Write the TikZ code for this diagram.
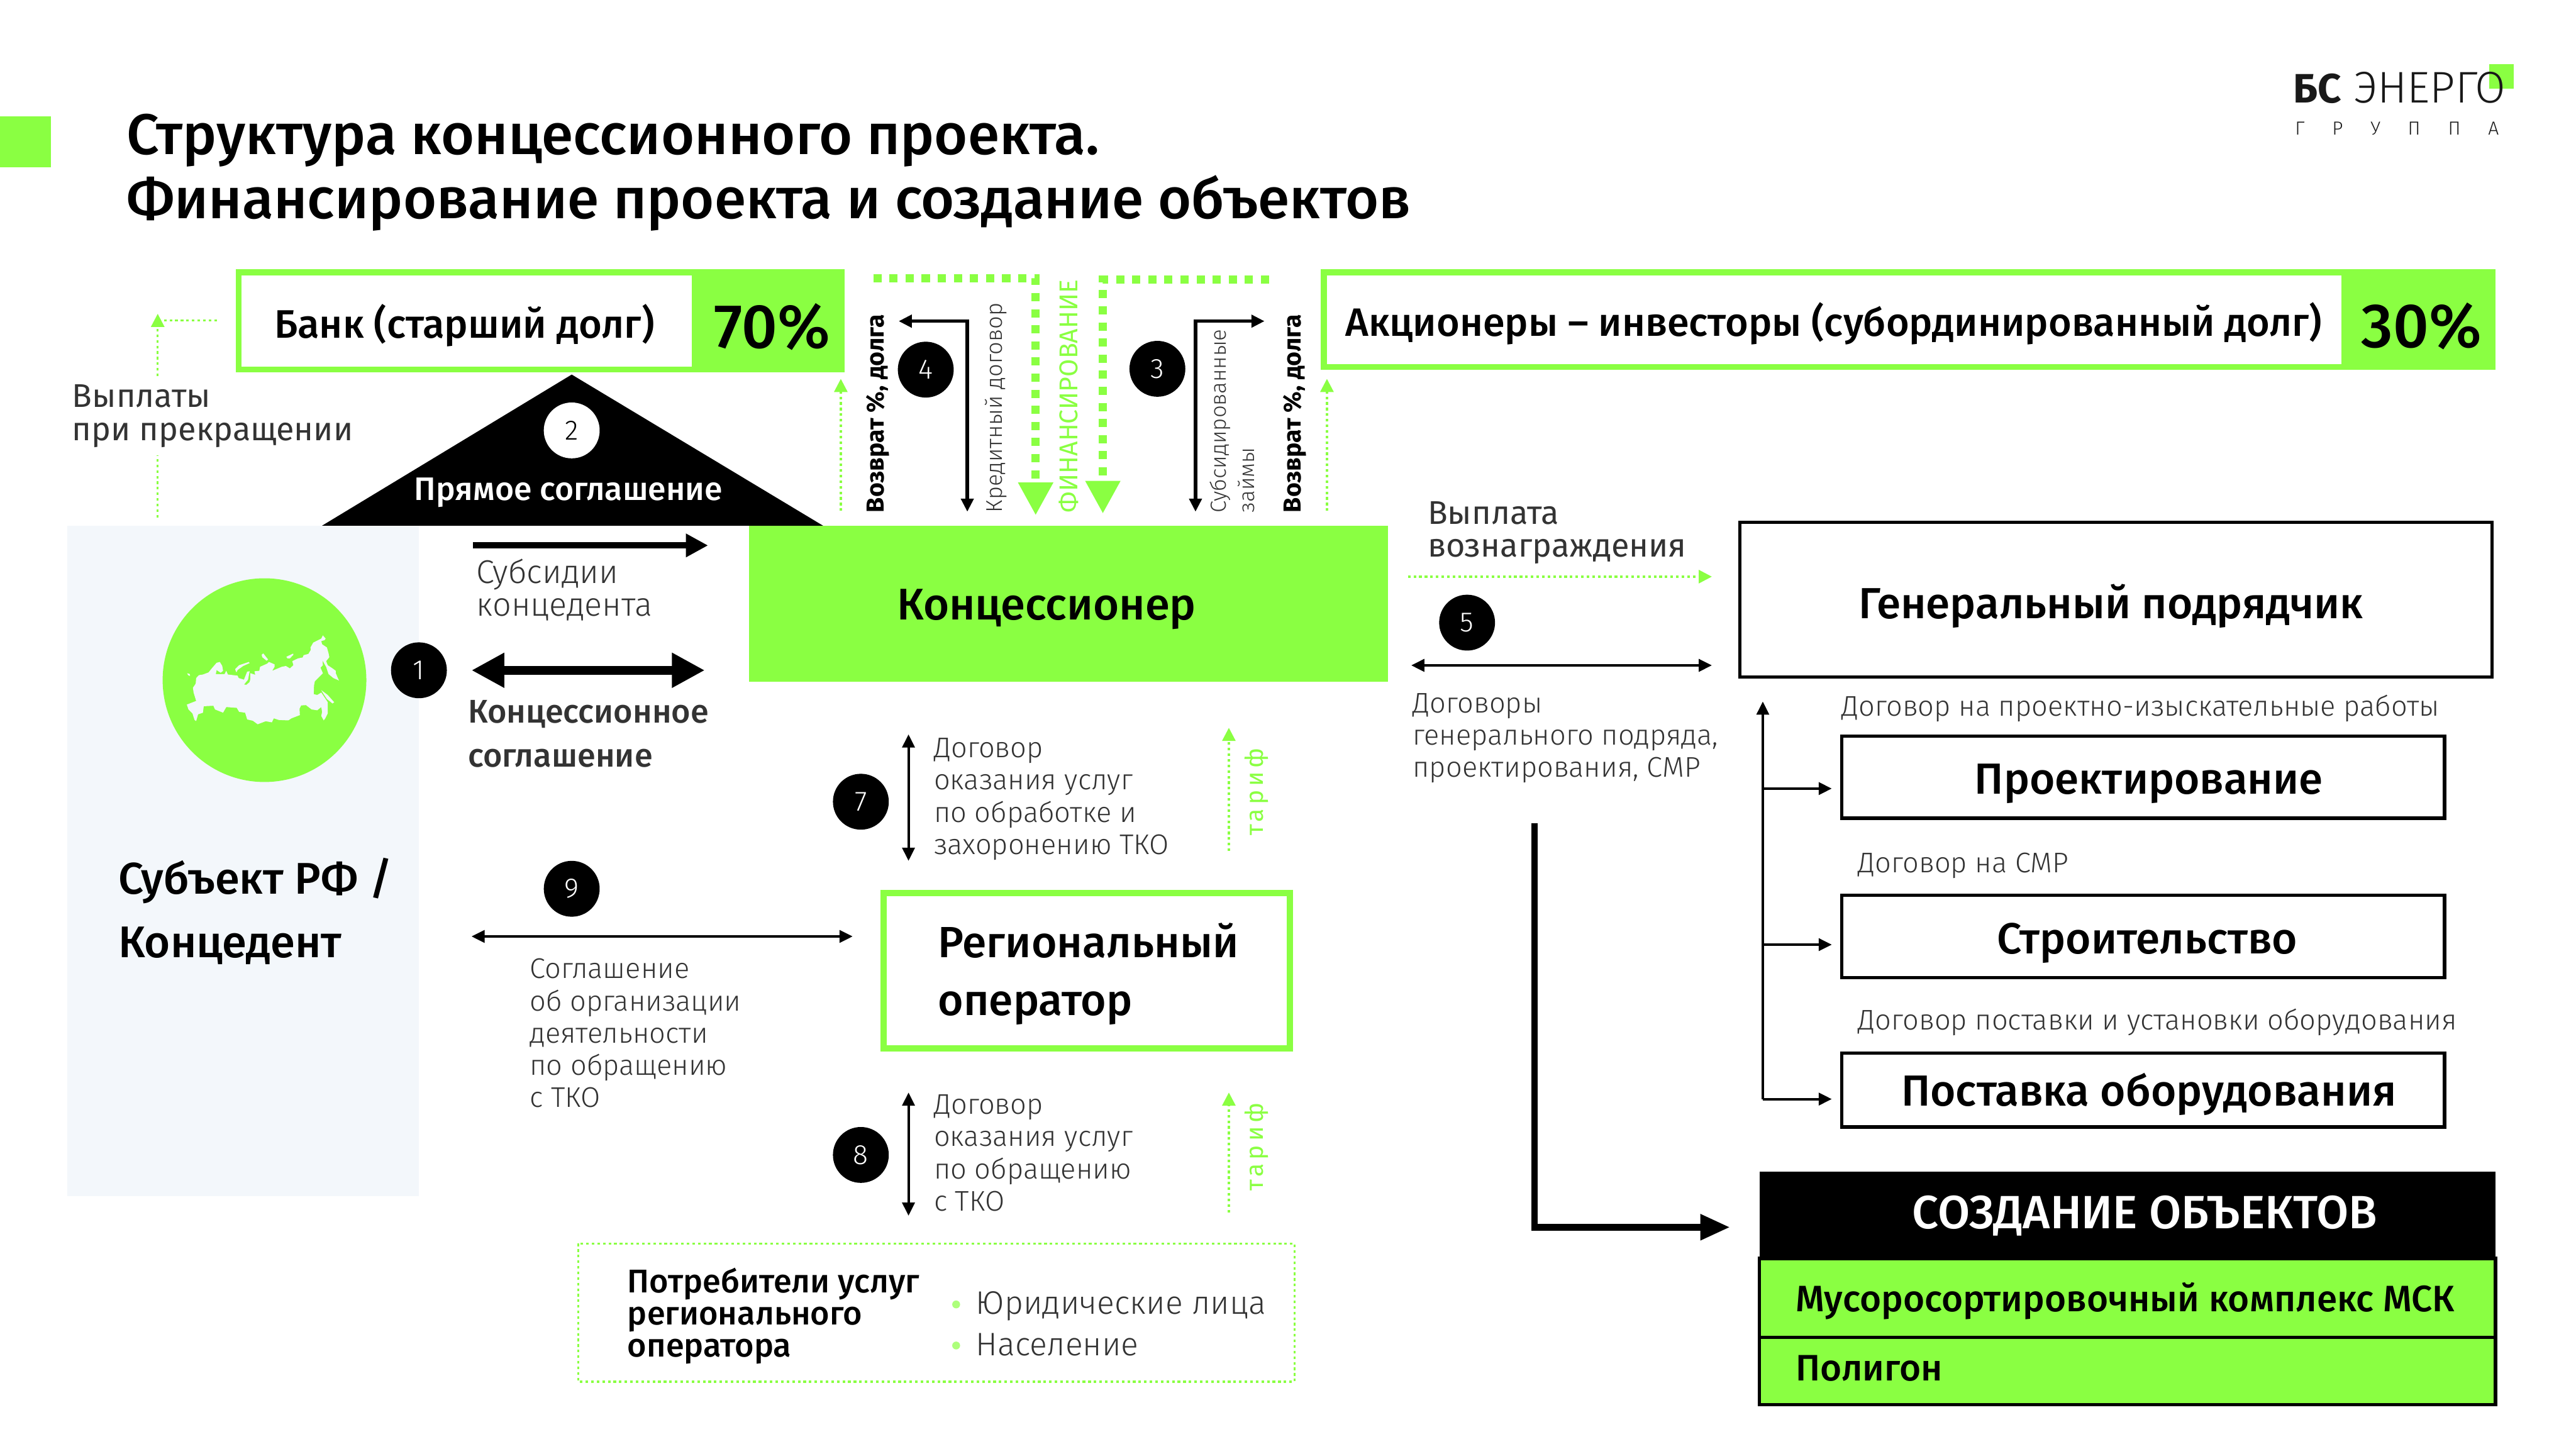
\documentclass[tikz,border=0pt]{standalone}
\usepackage{fontspec}
\setmainfont{Fira Sans}
\newfontfamily\medfont{Fira Sans Medium}
\newfontfamily\litefont{Fira Sans Light}
\usepackage{xcolor}
\usetikzlibrary{calc,arrows.meta}
\definecolor{lime}{HTML}{8AFF42}
\definecolor{panel}{HTML}{F3F7FB}
\definecolor{ink}{HTML}{333333}
\tikzset{
  every node/.style={inner sep=0pt, outer sep=0pt, text=black},
  limebox/.style={draw=lime, line width=3.6pt, fill=white},
  blackbox/.style={draw=black, line width=2pt, fill=white},
  num/.style={circle, fill=black, minimum size=34pt, text=white, font=\litefont\fontsize{17}{20}\selectfont},
  ttl/.style={anchor=base west, font=\medfont\fontsize{34.9}{39}\selectfont},
  head/.style={font=\medfont\fontsize{26.5}{30}\selectfont},
  desc/.style={anchor=base west, align=left, text=ink, font=\litefont\fontsize{17.3}{19.6}\selectfont},
  descm/.style={anchor=base west, align=left, text=ink, font=\fontsize{20}{20}\selectfont},
  vert/.style={rotate=90, anchor=base west, font=\fontsize{14.5}{17}\selectfont},
  tarif/.style={rotate=90, text=lime, font=\fontsize{15}{18}\addfontfeature{LetterSpace=15}\selectfont},
  thin arr/.style={draw=black, line width=1.6pt, -{Triangle[length=8pt,width=7.5pt]}},
  thin dbl/.style={draw=black, line width=1.6pt, {Triangle[length=8pt,width=7.5pt]}-{Triangle[length=8pt,width=7.5pt]}},
  dot arr/.style={draw=lime, line width=1.3pt, dash pattern=on 1.6pt off 1.8pt, -{Triangle[length=8pt,width=8pt]}},
  dot lin/.style={draw=lime, line width=1.3pt, dash pattern=on 1.6pt off 1.8pt},
  fin arr/.style={draw=lime, line width=5pt, dash pattern=on 5pt off 4.8pt, -{Triangle[length=20pt,width=20pt]}}
}
\begin{document}
\begin{tikzpicture}[x=1pt,y=-1pt]
  \useasboundingbox (0,0) rectangle (1568,882);
  % header
  \fill[lime] (0,71) rectangle (31,102);
  \node[ttl] (title1) at (77,94) {Структура концессионного проекта.};
  \node[ttl] (title2) at (77,133) {Финансирование проекта и создание объектов};
  \fill[lime] (1515,39) rectangle (1530,54);
  \node[anchor=base west, text=black!90, font=\bfseries\fontsize{25}{28}\selectfont] (logoa) at (1396,62.5) {БС};
  \node[anchor=base west, text=black!90, font=\litefont\fontsize{27}{28}\selectfont] (logob) at (1433,62.5) {ЭНЕРГО};
  \node[anchor=base west, text=black!90, font=\litefont\fontsize{11.5}{13}\selectfont] (logoc) at (1397,82) {\makebox[124pt][s]{Г\hfil Р\hfil У\hfil П\hfil П\hfil А}};

  % bank and investors
  \draw[limebox] (145.2,165.8) rectangle (512.2,224.8);
  \fill[lime] (421,164) rectangle (514,226.6);
  \node[anchor=west, font=\medfont\fontsize{24.2}{28}\selectfont] (bank) at (167,198) {Банк (старший долг)};
  \node[font=\medfont\fontsize{38}{40}\selectfont] (p70) at (470,199) {70\%};
  \draw[limebox] (805.8,165.8) rectangle (1517.2,223.4);
  \fill[lime] (1425,164) rectangle (1519,225.2);
  \node[anchor=west, font=\medfont\fontsize{24.1}{28}\selectfont] (invest) at (819,197) {Акционеры – инвесторы (субординированный долг)};
  \node[font=\medfont\fontsize{38}{40}\selectfont] (p30) at (1474,198.5) {30\%};

  % direct agreement
  \fill[black] (348,228) coordinate (apex) -- (501,320) -- (196,320) -- cycle;
  \node[num, fill=white, text=black] (n2) at (348,262) {2};
  \node[text=white, font=\medfont\fontsize{19.8}{23}\selectfont] (direct) at (346,300) {Прямое соглашение};

  % grantor
  \fill[panel] (41,320) rectangle (255,728);
  \fill[lime] (161,414) circle (62);
  \begin{scope}[shift={(108.82,379.41)}, x=0.098pt, y=-0.098pt]
    \fill[panel] (50,505) -- (75,495) -- (108,482) -- (92,430) -- (88,400) -- (105,375) -- (108,340) -- (125,322) -- (150,318) -- (185,305) -- (205,280) -- (235,245) -- (255,240) -- (270,265) -- (275,295) -- (260,307) -- (235,290) -- (230,315) -- (285,315) -- (295,295) -- (305,318) -- (365,325) -- (372,340) -- (405,350) -- (425,300) -- (440,298) -- (430,350) -- (405,380) -- (420,382) -- (440,365) -- (445,345) -- (445,310) -- (475,320) -- (470,298) -- (500,295) -- (505,270) -- (550,250) -- (560,240) -- (595,255) -- (595,270) -- (580,295) -- (640,270) -- (665,265) -- (690,280) -- (712,260) -- (705,235) -- (740,218) -- (770,212) -- (775,198) -- (805,190) -- (820,165) -- (818,150) -- (835,120) -- (885,95) -- (895,75) -- (912,95) -- (905,105) -- (885,110) -- (890,130) -- (920,150) -- (930,185) -- (935,210) -- (915,235) -- (925,260) -- (955,280) -- (975,295) -- (975,310) -- (990,345) -- (995,355) -- (960,340) -- (930,315) -- (915,270) -- (892,230) -- (895,260) -- (880,275) -- (895,310) -- (845,360) -- (840,385) -- (838,440) -- (860,445) -- (885,430) -- (905,460) -- (925,490) -- (925,560) -- (910,590) -- (900,603) -- (885,575) -- (890,550) -- (885,520) -- (860,540) -- (825,535) -- (790,508) -- (760,510) -- (750,530) -- (752,570) -- (700,590) -- (680,603) -- (620,600) -- (590,590) -- (578,615) -- (540,608) -- (490,627) -- (460,605) -- (425,597) -- (412,555) -- (375,550) -- (360,525) -- (295,520) -- (275,555) -- (225,535) -- (215,512) -- (155,515) -- (150,555) -- (120,565) -- (108,607) -- (98,600) -- (85,560) -- (60,535) -- cycle;
    \fill[panel] (885,415) -- (925,445) -- (965,490) -- (955,498) -- (920,470) -- (900,440) -- cycle;
    \fill[panel] (350,285) -- (375,260) -- (435,240) -- (440,247) -- (400,265) -- (365,290) -- (358,305) -- cycle;
    \fill[panel] (52,310) -- (68,315) -- (70,327) -- (58,322) -- cycle;
    \fill[panel] (515,195) -- (525,187) -- (555,225) -- (545,232) -- (518,210) -- cycle;
    \fill[panel] (668,208) -- (710,188) -- (712,195) -- (690,218) -- (675,218) -- cycle;
  \end{scope}
  \node[num] (n1) at (255,408) {1};
  \node[anchor=base west, font=\medfont\fontsize{27}{31}\selectfont] (subj1) at (72,544) {Субъект РФ /};
  \node[anchor=base west, font=\medfont\fontsize{27}{31}\selectfont] (subj2) at (72,583) {Концедент};

  % concessionaire
  \node[fill=lime, minimum width=389pt, minimum height=95pt] (conc) at (650.5,367.5) {};
  \node[font=\medfont\fontsize{27}{31}\selectfont] (conct) at (637,371) {Концессионер};

  % payments on termination
  \coordinate (payA) at (96,315); \coordinate (payB) at (96,277);
  \coordinate (payC) at (96,229); \coordinate (payD) at (96,191); \coordinate (payE) at (132,195);
  \draw[dot lin] (payA) -- (payB);
  \draw[dot arr] (payC) -- (payD);
  \draw[dot lin] (payE) -- (payD |- payE);
  \node[descm] (paytxt) at (44,268) {Выплаты\\при прекращении};

  % grantor to concessionaire
  \coordinate (subA) at (288,332); \coordinate (subB) at (431,332);
  \draw[line width=4pt, -{Triangle[length=13.5pt,width=13.5pt]}] (subA) -- (subB);
  \node[desc, font=\litefont\fontsize{20}{20}\selectfont] (subtxt) at (290,375) {Субсидии\\концедента};
  \coordinate (agrA) at (287,408); \coordinate (agrB) at (429,408);
  \draw[line width=5.5pt, {Triangle[length=20pt,width=20pt]}-{Triangle[length=20pt,width=20pt]}] (agrA) -- (agrB);
  \node[anchor=base west, align=left, text=ink, font=\medfont\fontsize{20}{27}\selectfont] (agrtxt) at (285,467) {Концессионное\\соглашение};

  % financing
  \coordinate (finLa) at (531.6,169.4); \coordinate (finLb) at (630.4,169.4); \coordinate (finLc) at (630.4,313.7);
  \coordinate (finRa) at (772.5,170); \coordinate (finRb) at (671.3,170); \coordinate (finRc) at (671.3,312.7);
  \draw[fin arr] (finLa) -- (finLb) -- (finLc);
  \draw[fin arr] (finRa) -- (finRb) -- (finRc);
  \node[vert, text=lime, font=\fontsize{15.7}{17}\selectfont] (fin) at (656,312) {ФИНАНСИРОВАНИЕ};
  \node[vert, font=\bfseries\fontsize{15}{17}\selectfont] (ret1) at (538,312) {Возврат \%, долга};
  \node[vert, font=\bfseries\fontsize{15}{17}\selectfont] (ret2) at (792,312) {Возврат \%, долга};
  \coordinate (retAa) at (511.8,311); \coordinate (retAb) at (511.8,230.6);
  \coordinate (retBa) at (807.7,311); \coordinate (retBb) at (807.7,230.6);
  \draw[dot arr] (retAa) -- (retAb);
  \draw[dot arr] (retBa) -- (retBb);
  \coordinate (crdA) at (547,195.5); \coordinate (crdB) at (588.8,195.5); \coordinate (crdC) at (588.8,311.5);
  \draw[thin dbl, line width=2pt] (crdA) -- (crdB) -- (crdC);
  \coordinate (subzA) at (769.7,195.5); \coordinate (subzB) at (727.7,195.5); \coordinate (subzC) at (727.7,311.5);
  \draw[thin dbl, line width=2pt] (subzA) -- (subzB) -- (subzC);
  \node[num] (n4) at (563.5,225) {4};
  \node[num] (n3) at (704.5,224.5) {3};
  \node[vert, text=ink, font=\litefont\fontsize{13.85}{17}\selectfont] (crdtxt) at (610,312) {Кредитный договор};
  \node[rotate=90, anchor=west, align=left, text=ink, font=\litefont\fontsize{13.3}{17}\selectfont] (subztxt) at (750,312) {Субсидированные\\займы};

  % general contractor
  \node[blackbox, minimum width=458pt, minimum height=94pt] (gen) at (1288,365) {};
  \node[head] (gent) at (1285,369) {Генеральный подрядчик};
  \node[descm] (rewtxt) at (869,339) {Выплата\\вознаграждения};
  \coordinate (rewA) at (857,351); \coordinate (rewB) at (1042,351);
  \draw[dot arr] (rewA) -- (rewB);
  \node[num] (n5) at (893,379) {5};
  \coordinate (ctrA) at (859,405); \coordinate (ctrB) at (1042,405);
  \draw[thin dbl] (ctrA) -- (ctrB);
  \node[desc] (ctrtxt) at (860,473) {Договоры\\генерального подряда,\\проектирования, СМР};

  % subcontracts
  \node[blackbox, minimum width=367pt, minimum height=50pt] (prj) at (1304.5,473) {};
  \node[blackbox, minimum width=367pt, minimum height=50pt] (bld) at (1304.5,570) {};
  \node[blackbox, minimum width=367pt, minimum height=45pt] (sup) at (1304.5,663.5) {};
  \node[head] (prjt) at (1308,477) {Проектирование};
  \node[head] (bldt) at (1307,574) {Строительство};
  \node[head] (supt) at (1308,666) {Поставка оборудования};
  \node[desc] (prjl) at (1121,436) {Договор на проектно-изыскательные работы};
  \node[desc] (bldl) at (1131,531) {Договор на СМР};
  \node[desc] (supl) at (1131,627) {Договор поставки и установки оборудования};
  \coordinate (busT) at (1073,427); \coordinate (busB) at (1073,669);
  \draw[line width=1.6pt, -{Triangle[length=8pt,width=7.5pt]}] (busB) -- (busT);
  \coordinate (tipA) at (1115,480); \coordinate (tipB) at (1115,575); \coordinate (tipC) at (1115,669);
  \draw[thin arr] (busT |- tipA) -- (tipA);
  \draw[thin arr] (busT |- tipB) -- (tipB);
  \draw[thin arr] (busT |- tipC) -- (tipC);

  % objects
  \coordinate (bigA) at (934,501); \coordinate (bigB) at (934,747); \coordinate (bigC) at (1053,747);
  \draw[line width=4pt, -{Triangle[length=18pt,width=15pt]}] (bigA) -- (bigB) -- (bigC);
  \fill[black] (1071,713) rectangle (1519,766);
  \node[text=white, font=\medfont\fontsize{28.4}{30}\selectfont] (objt) at (1305.5,740) {СОЗДАНИЕ ОБЪЕКТОВ};
  \draw[fill=lime, line width=2pt] (1071,766) rectangle (1519,814);
  \draw[fill=lime, line width=2pt] (1071,814) rectangle (1519,855);
  \node[anchor=west, font=\medfont\fontsize{22.4}{27}\selectfont] (msk) at (1093,792) {Мусоросортировочный комплекс МСК};
  \node[anchor=west, font=\medfont\fontsize{22.4}{27}\selectfont] (pol) at (1093,833) {Полигон};

  % regional operator
  \draw[limebox, line width=3.8pt] (538,543.5) coordinate (regnw) rectangle (785,638);
  \node[anchor=base west, align=left, font=\medfont\fontsize{26.6}{35}\selectfont] (reg) at (571,618) {Региональный\\оператор};
  \node[num] (n9) at (348,541) {9};
  \coordinate (regA) at (287,570); \coordinate (regB) at (519,570);
  \draw[thin dbl] (regA) -- (regB);
  \node[desc] (regtxt) at (322.5,674) {Соглашение\\об организации\\деятельности\\по обращению\\с ТКО};

  % contracts with the operator
  \coordinate (tkoA) at (553,447); \coordinate (tkoB) at (553,524);
  \draw[thin dbl] (tkoA) -- (tkoB);
  \node[num] (n7) at (524,488) {7};
  \node[desc] (tkotxt) at (568.5,520) {Договор\\оказания услуг\\по обработке и\\захоронению ТКО};
  \coordinate (tarA) at (748,518); \coordinate (tarB) at (748,443);
  \draw[dot arr] (tarA) -- (tarB);
  \node[tarif] (tar1) at (765,482) {тариф};
  \coordinate (srvA) at (553,665); \coordinate (srvB) at (553,740);
  \draw[thin dbl] (srvA) -- (srvB);
  \node[num] (n8) at (524,703) {8};
  \node[desc] (srvtxt) at (568.5,737) {Договор\\оказания услуг\\по обращению\\с ТКО};
  \coordinate (tarC) at (748,738); \coordinate (tarD) at (748,665);
  \draw[dot arr] (tarC) -- (tarD);
  \node[tarif] (tar2) at (765,698) {тариф};

  % consumers
  \draw[dot lin] (352,757) rectangle (788,841);
  \node[anchor=base west, align=left, font=\medfont\fontsize{20}{19.6}\selectfont] (cons) at (382,826) {Потребители услуг\\регионального\\оператора};
  \fill[lime!70!white] (582,794) circle (2.4); \fill[lime!70!white] (582,819) circle (2.4);
  \node[anchor=base west, text=ink, font=\litefont\fontsize{19.8}{24}\selectfont] (law) at (594,800) {Юридические лица};
  \node[anchor=base west, text=ink, font=\litefont\fontsize{19.8}{24}\selectfont] (pop) at (594,825) {Население};
\end{tikzpicture}
\end{document}
